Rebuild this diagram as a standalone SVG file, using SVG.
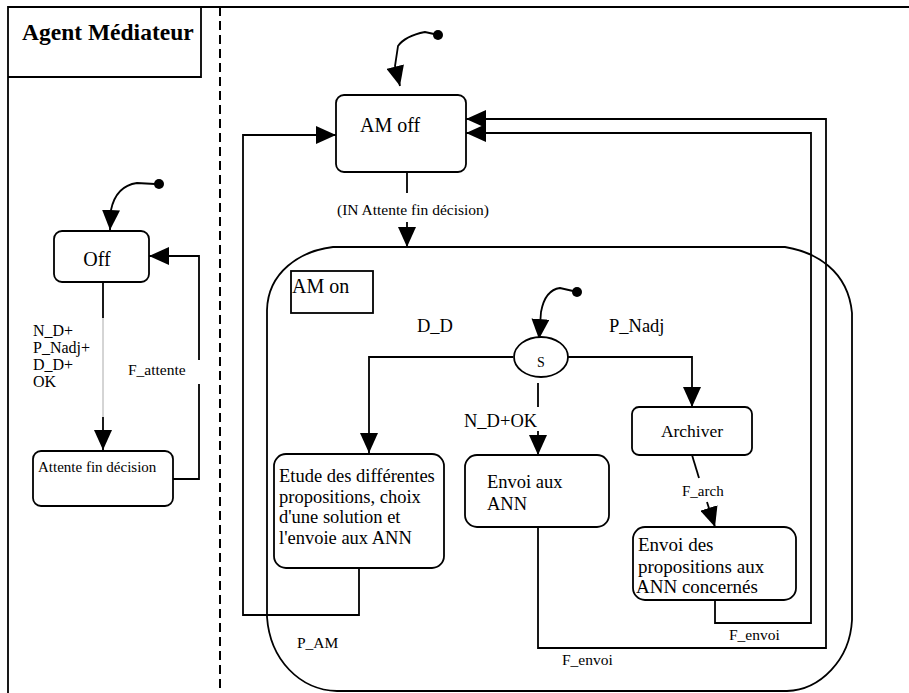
<svg xmlns="http://www.w3.org/2000/svg" width="909" height="693" viewBox="0 0 909 693">
<style>
.ln{fill:none;stroke:#000;stroke-width:1.8}
.box{fill:#fff;stroke:#000;stroke-width:1.8}
.t{font-family:"Liberation Serif","Times New Roman",serif;fill:#000}
.arr{fill:none;stroke:#000;stroke-width:1.8;marker-end:url(#ah)}
</style>
<defs>
<marker id="ah" markerUnits="userSpaceOnUse" viewBox="0 0 20 18" refX="20" refY="9" markerWidth="20" markerHeight="18" orient="auto">
<path d="M0,0 L20,9 L0,18 z" fill="#000"/>
</marker>
</defs>
<rect width="909" height="693" fill="#fff"/>
<g id="frame">
<path class="ln" d="M909,7 H8 V693"/>
<path class="ln" d="M8,77 H201 V7"/>
<text class="t" x="22" y="40" font-size="23.5" font-weight="bold">Agent Médiateur</text>
<line x1="220" y1="7" x2="220" y2="693" stroke="#000" stroke-width="2" stroke-dasharray="9 5"/>
</g>
<g id="connectors">
<!-- left region -->
<circle cx="159" cy="184" r="5" fill="#000"/>
<path class="arr" d="M155,184 L137,183 Q116,186 111,210 L110,230"/>
<path class="ln" d="M103,282 V318"/>
<path d="M103,318 V417" stroke="#aaa" stroke-width="1" fill="none"/>
<path class="arr" d="M103,417 V450"/>
<path class="ln" d="M173,479 H199 V384"/>
<path class="arr" d="M199,360 V256 H149"/>
<!-- AM off initial -->
<circle cx="438" cy="35" r="5" fill="#000"/>
<path class="arr" d="M434,34 L425,32 Q405,36 398,46 L395,66 L400,86"/>
<!-- AM off to AM on -->
<path class="ln" d="M407,172 V193"/>
<path class="arr" d="M407,222 V247"/>
<!-- loops back to AM off -->
<path class="arr" d="M359,568 V615 H243 V135 H336"/>
<path class="arr" d="M538,527 V648 H826 V119 H466"/>
<path class="arr" d="M715,600 V623 H811 V133 H466"/>
<!-- S initial -->
<circle cx="577" cy="292" r="5" fill="#000"/>
<path class="arr" d="M573,291 L560,288 Q545,290 541,312 L539,339"/>
<!-- S branches -->
<path class="arr" d="M513,357 H369 V453"/>
<path class="ln" d="M538,383 V407"/>
<path class="arr" d="M538,431 V455"/>
<path class="arr" d="M568,357 H692 V407"/>
<!-- F_arch -->
<path class="ln" d="M692,455 L699,478"/>
<path class="arr" d="M707,502 L715,527"/>
</g>
<g id="off">
<rect class="box" x="54" y="231" width="95" height="51" rx="8"/>
<text class="t" x="97" y="266" font-size="20" text-anchor="middle">Off</text>
</g>
<g id="attente">
<rect class="box" x="33" y="451" width="140" height="55" rx="8"/>
<text class="t" x="38" y="472" font-size="15">Attente fin décision</text>
</g>
<g id="labels-left" class="t" font-size="16">
<text class="t" x="33" y="336" font-size="16">N_D+</text>
<text class="t" x="33" y="353" font-size="16">P_Nadj+</text>
<text class="t" x="33" y="370" font-size="16">D_D+</text>
<text class="t" x="33" y="387" font-size="16">OK</text>
<text class="t" x="128" y="375" font-size="15.5">F_attente</text>
</g>
<g id="am-off">
<rect class="box" x="336" y="95" width="130" height="77" rx="8"/>
<text class="t" x="360" y="132" font-size="20">AM off</text>
</g>
<text class="t" x="337" y="215" font-size="15.5">(IN Attente fin décision)</text>
<g id="am-on">
<path class="ln" d="M333,247 H785 C815,252 848,270 852,313 V620 C850,660 820,690 787,691 H337 C300,690 270,660 267,617 V310 C268,272 300,251 333,247 Z"/>
<rect class="box" x="291" y="271" width="82" height="42" fill="none"/>
<text class="t" x="292" y="293" font-size="20">AM on</text>
</g>
<g id="s">
<ellipse class="box" cx="541" cy="357" rx="27" ry="20"/>
<text class="t" x="541" y="367" font-size="14" text-anchor="middle">S</text>
</g>
<text class="t" x="417" y="332" font-size="18.5">D_D</text>
<text class="t" x="609" y="332" font-size="18.5">P_Nadj</text>
<text class="t" x="464" y="427" font-size="18.5">N_D+OK</text>
<g id="etude">
<rect class="box" x="274" y="454" width="170" height="114" rx="12"/>
<text class="t" x="279" y="482" font-size="18.5">Etude des différentes</text>
<text class="t" x="279" y="503" font-size="18.5">propositions, choix</text>
<text class="t" x="279" y="523" font-size="18.5">d'une solution et</text>
<text class="t" x="279" y="544" font-size="18.5">l'envoie aux ANN</text>
</g>
<g id="envoi-ann">
<rect class="box" x="465" y="455" width="144" height="72" rx="12"/>
<text class="t" x="487" y="488" font-size="18.5">Envoi aux</text>
<text class="t" x="487" y="510" font-size="18.5">ANN</text>
</g>
<g id="archiver">
<rect class="box" x="632" y="407" width="120" height="48" rx="7"/>
<text class="t" x="692" y="437" font-size="17.5" text-anchor="middle">Archiver</text>
</g>
<text class="t" x="682" y="496" font-size="15">F_arch</text>
<g id="envoi-prop">
<rect class="box" x="633" y="527" width="163" height="73" rx="12"/>
<text class="t" x="638" y="551" font-size="19">Envoi des</text>
<text class="t" x="638" y="573" font-size="19">propositions aux</text>
<text class="t" x="636" y="593" font-size="19">ANN concernés</text>
</g>
<text class="t" x="297" y="648" font-size="15.5">P_AM</text>
<text class="t" x="562" y="665" font-size="15.5">F_envoi</text>
<text class="t" x="729" y="640" font-size="15.5">F_envoi</text>
</svg>
